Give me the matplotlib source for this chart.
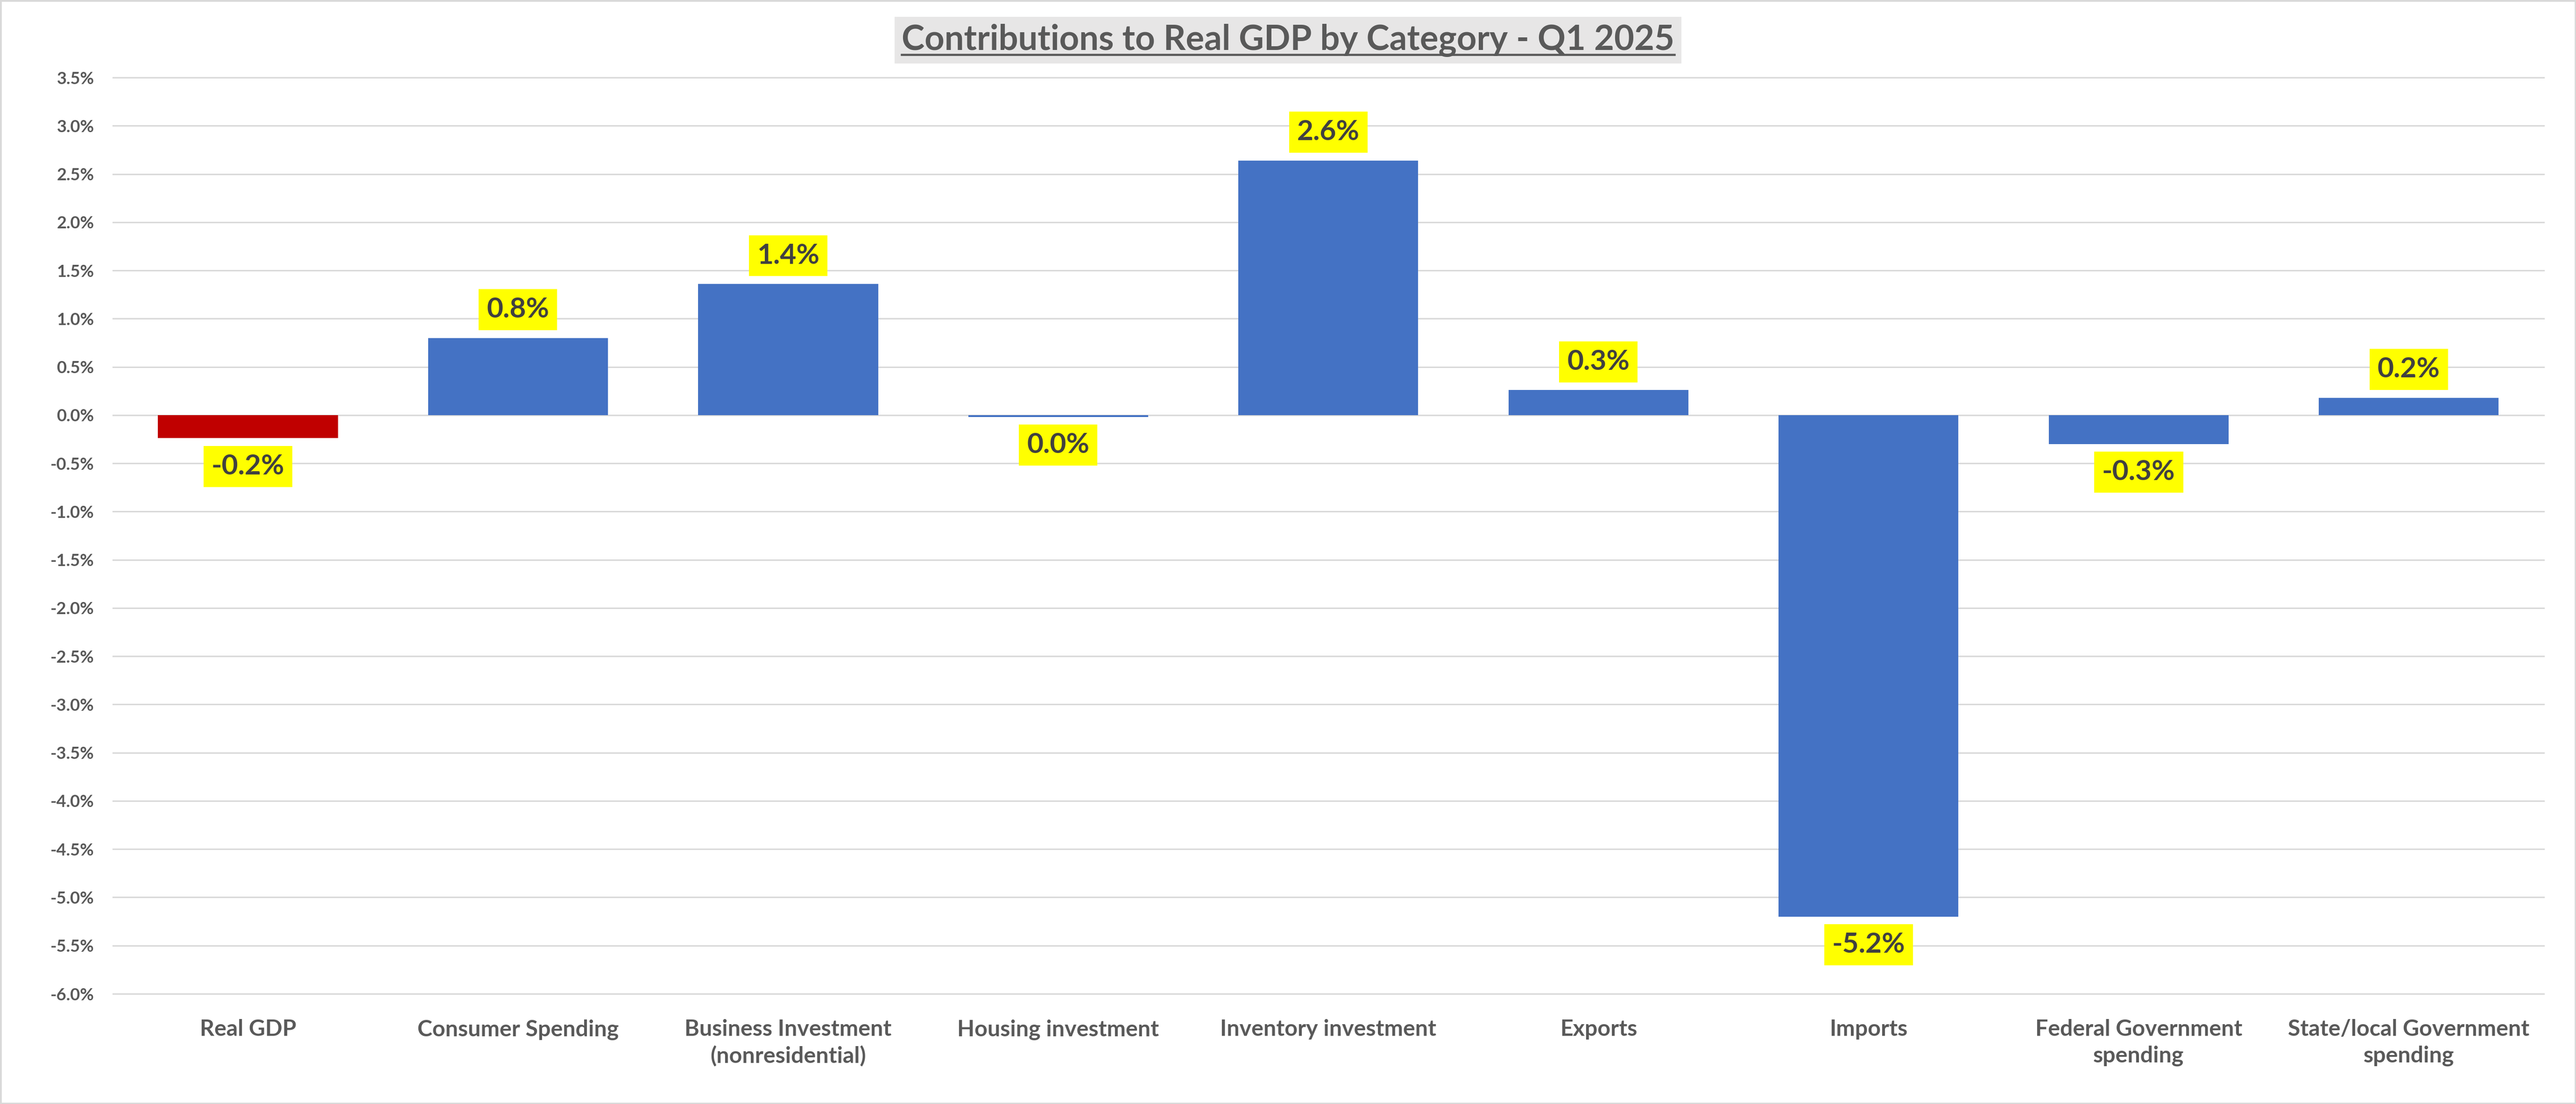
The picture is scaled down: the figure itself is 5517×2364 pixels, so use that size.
import matplotlib
matplotlib.use("Agg")
import matplotlib.pyplot as plt
from matplotlib.ticker import FixedLocator, FuncFormatter
from matplotlib.patches import Rectangle
from matplotlib.lines import Line2D
from matplotlib.transforms import IdentityTransform
import numpy as np

# ---- data ----
categories = [
    "Real GDP",
    "Consumer Spending",
    "Business Investment\n(nonresidential)",
    "Housing investment",
    "Inventory investment",
    "Exports",
    "Imports",
    "Federal Government\nspending",
    "State/local Government\nspending",
]
values = [-0.24, 0.80, 1.36, -0.02, 2.64, 0.26, -5.20, -0.30, 0.18]
bar_colors = ["#C00000"] + ["#4472C4"] * 8
y_ticks = [-6.0, -5.5, -5.0, -4.5, -4.0, -3.5, -3.0, -2.5, -2.0, -1.5, -1.0,
           -0.5, 0.0, 0.5, 1.0, 1.5, 2.0, 2.5, 3.0, 3.5]
title = "Contributions to Real GDP by Category - Q1 2025"

FONT = ["Lato", "DejaVu Sans"]
plt.rcParams["font.family"] = FONT

W, H, DPI = 5517, 2364, 300
fig = plt.figure(figsize=(W / DPI, H / DPI), dpi=DPI)
fig.patch.set_facecolor("white")

ax = fig.add_axes([241.7 / W, 1 - 2128 / H, (5448 - 241.7) / W, (2128 - 166) / H])
ax.set_facecolor("white")

x = np.arange(len(categories))
bars = ax.bar(x, values, width=0.666, color=bar_colors, zorder=3)

ax.set_xlim(-0.5, len(categories) - 0.5)
ax.set_ylim(y_ticks[0], y_ticks[-1])
ax.yaxis.set_major_locator(FixedLocator(y_ticks))
ax.yaxis.set_major_formatter(FuncFormatter(lambda v, p: f"{v:.1f}%"))
ax.set_xticks(x)
ax.set_xticklabels(categories, fontsize=11.6, fontweight="bold", color="#595959",
                   linespacing=1.35)
for lab in ax.get_yticklabels():
    lab.set_fontsize(8.7)
    lab.set_fontweight("bold")
    lab.set_color("#595959")
ax.tick_params(axis="y", length=0, pad=9.6)
ax.tick_params(axis="x", length=0, pad=13.0)
for s in ax.spines.values():
    s.set_visible(False)
ax.grid(axis="y", color="#D9D9D9", linewidth=0.75, zorder=0)
ax.grid(axis="x", visible=False)
ax.set_axisbelow(True)
for gl in ax.get_ygridlines():
    gl.set_clip_on(False)

# data labels
for xi, v in zip(x, values):
    lbl = f"{round(v, 1) + 0.0:.1f}%"
    off = 14.5 if v > 0 else -14.5
    ax.annotate(lbl, xy=(xi, v), xytext=(0, off), textcoords="offset points",
                ha="center", va="center", fontsize=14.5, fontweight="bold",
                color="#404040", zorder=5,
                bbox=dict(boxstyle="square,pad=0.28", fc="#FFFF00", ec="none"))

# title with gray background and underline
t = fig.text(0.5, 1 - 86 / H, title, ha="center", va="center", fontsize=17.8,
             fontweight="bold", color="#595959", zorder=5,
             bbox=dict(boxstyle="square,pad=0.2", fc="#E7E6E6", ec="none"))
fig.canvas.draw()
bb = t.get_window_extent()
uy = bb.y0 + 0.06 * bb.height
fig.add_artist(Line2D([bb.x0, bb.x1], [uy, uy], transform=IdentityTransform(),
                      color="#595959", linewidth=1.1, zorder=10))

# outer chart border
fig.add_artist(Rectangle((0, 0), 1, 1, transform=fig.transFigure, fill=False,
                         ec="#D9D9D9", lw=1.6, clip_on=False, zorder=10))

fig.savefig("out.png", dpi=DPI, facecolor="white")
